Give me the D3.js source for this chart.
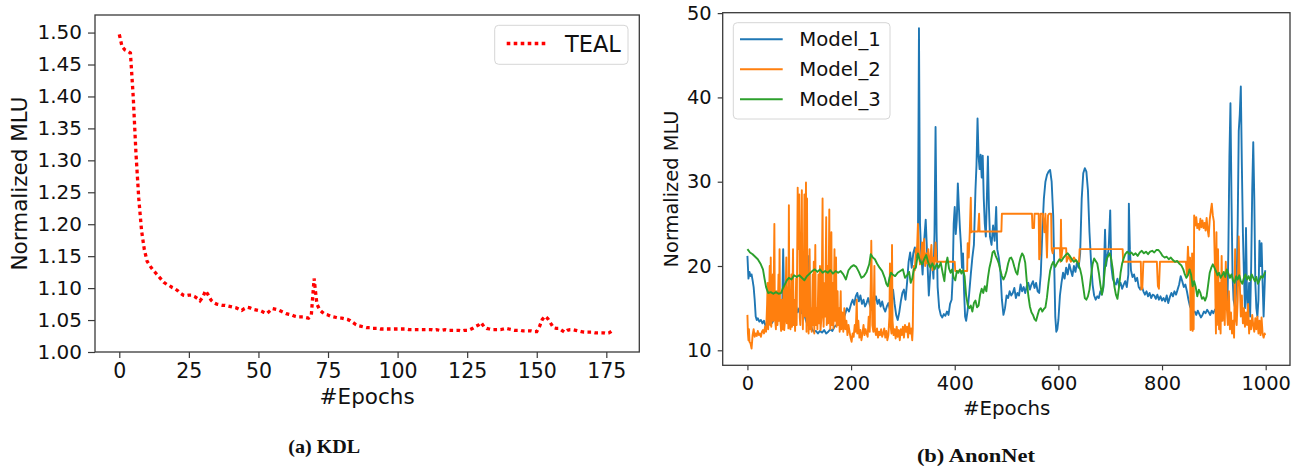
<!DOCTYPE html>
<html><head><meta charset="utf-8">
<script src="https://cdn.jsdelivr.net/npm/d3@7"></script>
<style>
html,body{margin:0;padding:0;background:#fff;}
svg{display:block;}
</style></head>
<body>
<svg id="c" width="1302" height="467"></svg>
<script>
// ---------- DATA ----------
const tealValues = [1.497,1.478,1.473,1.471,1.468,1.40,1.31,1.24,1.19,1.16,
1.142,1.135,1.129,1.124,1.119,1.114,1.109,1.106,1.104,1.101,
1.099,1.096,1.092,1.089,1.088,1.089,1.089,1.087,1.084,1.080,
1.086,1.096,1.089,1.081,1.077,1.075,1.074,1.073,1.073,1.072,
1.071,1.070,1.069,1.067,1.065,1.068,1.070,1.069,1.067,1.066,
1.065,1.064,1.062,1.060,1.064,1.068,1.067,1.066,1.064,1.062,
1.060,1.059,1.058,1.056,1.055,1.055,1.055,1.054,1.053,1.058,
1.115,1.075,1.066,1.062,1.059,1.058,1.056,1.055,1.054,1.053,
1.053,1.052,1.051,1.049,1.046,1.043,1.041,1.040,1.039,1.038,
1.038,1.037,1.037,1.037,1.036,1.036,1.036,1.036,1.036,1.036,
1.036,1.036,1.036,1.036,1.035,1.035,1.035,1.035,1.035,1.035,
1.035,1.035,1.035,1.034,1.035,1.034,1.034,1.035,1.034,1.034,
1.034,1.034,1.034,1.033,1.034,1.034,1.035,1.037,1.040,1.042,
1.046,1.040,1.037,1.036,1.035,1.035,1.035,1.035,1.036,1.037,
1.036,1.035,1.034,1.034,1.034,1.033,1.033,1.033,1.033,1.032,
1.032,1.040,1.051,1.056,1.052,1.045,1.038,1.037,1.037,1.034,
1.031,1.034,1.035,1.035,1.034,1.033,1.032,1.031,1.031,1.031,
1.031,1.030,1.030,1.030,1.030,1.029,1.030,1.033];
const tealXTicks = [0,25,50,75,100,125,150,175];
const tealYTicks = [1.00,1.05,1.10,1.15,1.20,1.25,1.30,1.35,1.40,1.45,1.50];

const model1 = [[0,21.2],[2,18.5],[4,19.3],[6,18.8],[8,19],[10,18.3],[12,17.5],[14,16],[16,14],[18,13.6],[20,13.8],[23,13.4],[26,13.6],[29,13.2],[32,13.5],[35,12.9],[38,13.2],[40,15.5],[42,16.2],[44,14],[47,13.2],[50,13.5],[53,13.8],[56,13.3],[60,13.6],[64,13.9],[67,14.5],[69,22],[71,15],[74,14.2],[78,14.5],[82,14],[86,14.4],[90,14.9],[94,15.2],[97,14.5],[100,15],[104,14.4],[107,15.3],[110,14.2],[113,13.5],[116,13],[119,21.2],[121,13.5],[124,12.6],[128,12.2],[132,12.3],[136,12],[140,12.3],[144,12.1],[148,12.4],[152,12],[156,12.2],[160,12.5],[164,12.3],[168,12.8],[172,13],[176,13.4],[180,12.9],[184,13.6],[188,14.2],[192,15],[196,14.6],[200,15.5],[203,16],[206,15.4],[209,16.4],[212,16.8],[215,15.8],[218,16.5],[221,15.5],[224,16],[227,15.2],[230,15.6],[233,16.2],[236,15.4],[239,14.8],[242,15.3],[245,15.9],[248,16.4],[251,15.5],[254,16],[257,15.2],[260,15.8],[263,15],[266,14.6],[269,15.2],[272,15.6],[275,14.8],[278,15.3],[281,17.2],[284,15.5],[287,14.2],[290,13.6],[293,14.5],[296,15.8],[299,16.8],[302,17.2],[305,16],[308,18],[311,20.5],[314,21.6],[317,19.8],[320,21.5],[323,22.2],[326,21],[329,22.5],[331,48.2],[333,25],[335,21.8],[338,19],[341,23],[344,25.5],[347,21],[350,16.5],[353,19.5],[356,21],[359,18.5],[361,24],[363,36.5],[365,24],[367,17.5],[370,15],[373,14.2],[376,13.9],[379,14.3],[382,14.1],[385,14.6],[388,14.2],[391,15.5],[394,16],[396,18.5],[398,25],[400,27],[402,23.8],[404,25.5],[406,29.8],[408,27],[410,24.5],[412,22.5],[414,19.8],[416,21.5],[418,17],[420,14],[422,13.5],[425,14.8],[428,16.8],[431,19],[434,21],[437,22.5],[440,29],[442,32],[444,37.5],[446,33],[448,31.5],[450,33.2],[452,30.5],[454,33.1],[456,28],[458,25],[460,23.5],[462,28],[464,33],[466,27],[468,23.5],[471,22.5],[474,24.8],[477,23],[480,27],[482,22],[485,21],[488,19.5],[491,16],[494,14.2],[497,15],[500,16.5],[503,16.2],[506,17],[509,16.5],[512,16.8],[515,17.4],[518,16.2],[521,16.8],[524,16.5],[527,17.8],[530,17],[533,17.5],[536,16.8],[539,17.6],[542,18],[545,17.2],[548,17.8],[551,18.2],[554,17.4],[557,18],[560,17],[563,16.8],[566,19],[569,24],[572,28],[575,30],[578,30.8],[581,31.2],[584,31.4],[587,30],[590,26],[592,20],[594,14],[596,12.2],[598,12.5],[600,13.6],[603,16.5],[606,18],[609,19.2],[612,18.5],[615,19.8],[618,19],[621,20.2],[624,19.5],[627,18.8],[630,20],[633,19.3],[636,20.5],[639,19.8],[642,21.5],[645,28],[648,31],[651,31.6],[654,31.2],[657,29],[660,24],[663,20.5],[666,17.8],[669,16.5],[672,16],[675,16.4],[678,16.2],[681,17],[684,16.6],[687,17.5],[690,24.3],[692,20],[694,21],[697,22],[700,26.6],[702,20],[705,18.5],[708,18],[711,17.8],[714,18.5],[717,17.6],[720,18],[723,17.3],[726,17.8],[729,18.2],[732,17.5],[735,19],[736,27.4],[738,22],[740,19.5],[743,18.7],[746,19],[749,18.2],[752,18.6],[755,17.5],[758,17.2],[761,17.6],[764,17],[767,16.6],[770,17],[773,16.4],[776,16.8],[779,16.2],[782,16.6],[785,16.5],[788,16.1],[791,16.6],[794,16],[797,16.4],[800,15.9],[803,16.2],[806,15.8],[809,16.5],[812,15.6],[815,16.3],[818,16.8],[821,16.4],[824,17],[827,16.6],[830,17.2],[833,17.8],[836,18.8],[839,18.2],[842,17.5],[845,17.8],[848,17],[851,16],[854,15.2],[857,14.8],[860,14.5],[863,14.6],[866,14.2],[869,14.7],[872,14.3],[875,13.9],[878,14.2],[881,14.6],[884,14.4],[887,14.8],[890,14.5],[893,14.2],[896,14.7],[899,14.4],[902,14.8],[905,15],[908,14.6],[911,15.8],[914,13.5],[917,16],[920,19],[923,17.5],[926,15],[928,22],[930,33],[932,39.3],[934,28],[936,19],[938,16],[941,15],[944,18],[946,25],[948,36],[950,38],[952,41.3],[954,32],[956,24],[958,19],[960,15],[962,24.5],[964,16],[966,14.5],[968,18],[970,14],[972,20],[974,29],[976,34.7],[978,28],[980,18],[982,15],[984,14],[986,16],[988,23],[990,20],[992,22.7],[994,18],[996,14],[999,19.5]];

const model2 = [[0,14.2],[1,12],[2,11.2],[3,12.5],[4,11],[6,10.8],[8,10.2],[10,11.8],[12,12.5],[14,11.6],[16,12],[18,11.7],[20,12.3],[22,11.8],[24,12],[26,11.6],[28,12.2],[30,12.4],[32,12],[34,12.8],[36,12.2],[38,15.5],[39,18],[40,12.5],[41,14],[43,20],[44,13],[45,21],[46,12.8],[48,15],[49,19],[50,13.5],[52,25],[53,14],[55,12.5],[56,17],[58,13],[60,19],[61,13.5],[62,22],[63,14],[65,12.3],[66,16],[68,12.5],[70,17.5],[71,12.4],[73,14],[75,21],[76,13.2],[78,17.5],[79,12.6],[80,27.2],[81,14],[83,12.5],[85,19],[86,12.8],[88,22],[89,13],[90,16],[92,12.3],[94,18.5],[95,13],[97,29.3],[98,22],[99,26],[100,28.5],[101,14],[102,13],[104,24],[105,29],[106,15],[107,12.5],[109,20],[110,28.5],[111,14],[113,29.9],[114,12.2],[115,28],[116,13],[117,18],[118,12],[120,22],[121,12.5],[123,15],[124,12.2],[126,19],[127,13],[128,20.5],[129,12],[131,22.5],[132,13],[134,15],[135,12.5],[137,19],[138,13.2],[140,20],[141,12.4],[143,14],[145,28],[146,15],[147,12.8],[149,18],[150,14],[152,25.8],[153,13],[155,20],[156,13.2],[158,26.7],[159,14],[160,12.5],[162,24],[163,13],[165,18],[166,12.6],[168,22],[169,13.5],[171,21],[172,12.8],[174,17],[175,13],[177,15],[178,12.2],[180,17],[181,12.5],[183,14.5],[185,12.2],[187,15],[189,12.5],[191,13.5],[193,11.8],[195,13],[197,12.2],[199,11.5],[201,11],[203,12],[205,11.6],[207,13],[209,12.2],[211,16],[212,12],[214,13.5],[216,11.5],[218,12.4],[220,11.2],[222,12],[224,13],[226,11.8],[228,12.5],[230,12],[232,11.6],[234,14],[236,12.2],[238,18],[239,23],[241,13],[243,12.2],[245,20],[246,12.5],[248,11.8],[250,12.6],[252,11.5],[254,12.2],[256,11.8],[258,12.5],[260,11.6],[262,12],[264,12.6],[266,11.5],[268,12.3],[270,11.2],[272,11.8],[274,14],[275,20.3],[276,13],[278,12],[279,22.5],[280,13.5],[282,11.8],[284,12.5],[286,11.4],[288,12.8],[290,11.6],[292,12.4],[294,11.2],[296,12.5],[298,11.8],[300,12.8],[302,11.5],[304,13],[306,12.2],[308,12.8],[310,11.5],[312,13.2],[314,12],[316,12.6],[318,11.2],[319,12.5],[320,17],[321,20],[323,19.5],[325,22],[327,21.5],[329,25],[331,21.5],[333,20.2],[335,21],[337,22.8],[339,20.5],[341,23.2],[343,20],[345,21.5],[347,20.3],[349,22],[351,20],[353,20.8],[355,22.5],[357,19.5],[359,21],[361,20.2],[363,22.8],[365,20.5],[370,20.5],[380,20.5],[390,20.5],[400,20.5],[401,19.4],[410,19.4],[420,19.4],[424,19.4],[425,22.7],[427,21],[429,24],[431,28.1],[432,24],[434,24.1],[440,24.1],[445,24.1],[447,26.2],[448,24.1],[460,24.1],[470,24.1],[480,24.1],[490,24.1],[491,26.2],[500,26.2],[510,26.2],[520,26.2],[530,26.2],[540,26.2],[549,26.2],[550,24.5],[553,24.5],[554,26.2],[562,26.2],[563,20.8],[565,21.5],[566,26.2],[570,26.2],[573,24],[575,26.2],[578,21],[580,26],[582,26.2],[586,26.2],[587,22],[589,21.5],[590,22.1],[600,22.1],[603,22.1],[604,20.5],[605,25.5],[606,21],[608,22.1],[615,22.1],[616,20.5],[620,21.2],[624,20.5],[630,21],[635,20.5],[640,20.5],[641,22],[650,22],[660,22],[670,22],[680,22],[690,22],[700,22],[710,22],[720,22],[724,22],[725,20.5],[740,20.5],[755,20.5],[759,20.5],[760,17.2],[762,17.4],[764,20.5],[780,20.5],[790,20.5],[792,17.6],[794,17.3],[796,20.5],[810,20.5],[820,20.5],[830,20.5],[840,20.5],[846,20.5],[848,19],[850,22.3],[852,19.5],[854,21],[855,12.4],[856,20.5],[857,12.5],[858,21.5],[859,12.3],[860,16],[861,12.5],[862,26],[864,24.8],[866,25.8],[868,24.5],[870,25],[872,24.3],[874,25.6],[876,24.6],[878,25.4],[880,24.5],[882,25.1],[884,24.2],[886,25.7],[888,24.3],[890,23.5],[892,25.5],[894,26.5],[896,27.4],[898,26],[900,25.3],[902,20],[904,12],[905,24],[906,13],[908,22],[910,12.5],[912,18],[913,12],[915,21.2],[917,13.5],[919,19],[921,13],[923,20.5],[925,15],[927,13],[929,17],[931,12.5],[933,14.5],[935,12],[937,13.5],[939,11.5],[941,22],[942,14],[944,13],[946,16],[948,23.5],[950,18],[952,14],[954,16.5],[956,13.2],[958,15],[960,12.8],[962,14.5],[964,13],[966,15.5],[968,12],[970,13.5],[972,12.5],[974,14.2],[976,13],[978,12.2],[980,13.8],[982,12.5],[984,14],[986,12],[988,13.5],[990,11.8],[992,13.9],[994,12],[996,11.5],[998,12],[999,11.8]];

const model3 = [[0,22],[5,21.6],[10,21.4],[15,21.1],[20,20.8],[25,20.3],[30,19.6],[33,18.5],[36,17.5],[40,16.8],[45,16.9],[50,16.7],[55,16.9],[60,16.7],[65,16.8],[68,17.3],[72,17.8],[76,18.3],[80,18.6],[85,18.4],[90,18.9],[95,18.7],[100,18.9],[105,18.6],[110,18.3],[115,18.8],[120,19.1],[125,19.4],[130,19.6],[135,19.3],[140,19.6],[145,19.2],[150,19.4],[155,19.2],[160,19.5],[165,19.1],[170,19.4],[175,19.2],[180,19.4],[185,19],[190,18.4],[195,19.5],[200,19.9],[205,20.1],[210,19.9],[215,19.3],[220,18.6],[225,18.8],[230,19.3],[235,20.2],[238,21.4],[242,21],[246,20.8],[250,20.3],[255,19.8],[260,19.4],[265,18.6],[268,17.9],[271,17.6],[274,18.6],[277,19.2],[280,19],[285,18.8],[290,19.2],[295,19.4],[300,19.6],[304,18.6],[308,18.9],[312,19.3],[315,18],[318,18.5],[321,19.6],[325,19.8],[329,21.5],[333,20.6],[337,20.2],[341,20.8],[345,21.3],[349,20.4],[353,19.8],[357,20.3],[361,19.6],[365,20.2],[369,19.8],[373,20.4],[377,19.1],[380,18.2],[383,20.2],[386,21],[389,19.7],[392,19.2],[395,19.6],[398,18.6],[401,18.3],[404,19.4],[407,19.2],[410,19.6],[413,19.1],[416,19.5],[419,18.8],[422,16.5],[425,15.4],[428,15],[431,15.3],[434,14.6],[437,15.6],[440,15.9],[443,15.1],[446,15.3],[449,16.6],[452,17.3],[455,16.8],[458,17.6],[461,17],[464,18.6],[467,19.8],[470,20.6],[473,21.6],[476,21.8],[479,21.2],[482,20.8],[485,20.3],[488,19.5],[491,18.8],[494,18.4],[497,18.8],[500,19.4],[503,20.3],[506,20.9],[509,21],[512,20.6],[515,19.9],[518,19.3],[521,19],[524,20.2],[527,21],[530,21.5],[533,21.2],[536,20.4],[539,18.2],[542,16.5],[545,15.2],[548,14.5],[551,14.2],[554,13.7],[557,13.5],[560,14.2],[563,14.8],[566,15],[569,14.6],[572,14.9],[575,15.1],[578,16.3],[581,18],[584,19.4],[587,20.1],[590,20.5],[594,19.9],[598,20.4],[602,20.8],[606,20.6],[610,21],[614,21.3],[618,21.5],[622,21.2],[626,20.8],[630,20.5],[634,20.7],[638,20.3],[642,19.6],[645,18.8],[648,17.5],[651,16.2],[654,16],[657,16.4],[660,17.2],[663,18.8],[666,20.2],[669,20.9],[672,20.6],[675,20.3],[678,19.2],[681,17.8],[684,16.6],[687,17.8],[690,19.8],[693,20.8],[696,21.2],[699,21.5],[702,20.8],[705,19.6],[708,17.6],[711,16.6],[714,16.1],[717,17.5],[720,19.2],[723,20.3],[726,20.9],[729,21.4],[733,21.7],[737,21.4],[741,21.6],[745,21.3],[749,21.5],[753,21.2],[757,21.6],[761,21.8],[765,21.5],[769,21.7],[773,21.4],[777,21.7],[781,21.8],[785,21.6],[789,21.9],[793,21.9],[797,21.6],[801,21.2],[805,21],[809,21.1],[813,20.8],[817,21],[821,20.7],[825,20.5],[829,20.6],[833,20.3],[837,20.1],[841,19.6],[844,19],[847,18.6],[850,18.9],[853,19.6],[856,19],[859,17.6],[862,18.2],[865,17.5],[868,16.4],[871,17.2],[874,16.8],[877,16.1],[880,16.3],[883,15.9],[886,16.4],[889,17.8],[892,19.2],[895,19.8],[898,20.2],[901,19.8],[904,19.4],[907,18.9],[910,19.2],[913,18.6],[916,18.9],[919,19.3],[922,18.7],[925,19.6],[928,19.1],[931,18.6],[934,19],[937,18.3],[940,18],[943,18.8],[946,18.4],[949,18.9],[952,18.2],[955,17.9],[958,18.6],[961,19],[964,18.4],[967,18.8],[970,18.3],[973,19],[976,18.6],[979,18.2],[982,18.7],[985,17.9],[988,18.3],[991,18.8],[994,18.6],[997,19],[999,19.3]];

const anonXTicks = [0,200,400,600,800,1000];
const anonYTicks = [10,20,30,40,50];
const seriesNames = ["Model_1","Model_2","Model_3"];
const seriesColors = ["#1f77b4","#ff7f0e","#2ca02c"];

// ---------- DRAW ----------
const svg = d3.select("#c");
const FONT = "'DejaVu Sans', sans-serif";
const SERIF = "'Liberation Serif', 'DejaVu Serif', serif";
const SPINE = "#3a3a3a";

function styleAxis(g, fs){
  g.select(".domain").remove();
  g.selectAll(".tick line").attr("stroke", SPINE).attr("stroke-width", 1.2);
  g.selectAll(".tick text").attr("fill", "#111").style("font-family", FONT).style("font-size", fs + "px");
}

// ===== Left: KDL =====
{
  const L = 95, R = 639.3, T = 15, B = 352;
  const x = d3.scaleLinear().domain([-8.73, 186.85]).range([L, R]);
  const y = d3.scaleLinear().domain([1.0, 1.5275]).range([B, T]);

  const gx = svg.append("g").attr("transform", `translate(0,${B})`)
    .call(d3.axisBottom(x).tickValues(tealXTicks).tickFormat(d3.format("d")).tickSize(6).tickPadding(5));
  styleAxis(gx, 20.5);
  const gy = svg.append("g").attr("transform", `translate(${L},0)`)
    .call(d3.axisLeft(y).tickValues(tealYTicks).tickFormat(d3.format(".2f")).tickSize(7).tickPadding(6));
  styleAxis(gy, 20);

  const line = d3.line().x((d, i) => x(i)).y(d => y(d));
  svg.append("path").datum(tealValues).attr("d", line)
    .attr("fill", "none").attr("stroke", "#ff0000").attr("stroke-width", 3.3)
    .attr("stroke-dasharray", "3.6,3.4");

  svg.append("rect").attr("x", L).attr("y", T).attr("width", R - L).attr("height", B - T)
    .attr("fill", "none").attr("stroke", SPINE).attr("stroke-width", 1.3);

  // legend
  svg.append("rect").attr("x", 494.7).attr("y", 25.3).attr("width", 133.3).attr("height", 39)
    .attr("rx", 4).attr("fill", "#fff").attr("fill-opacity", 0.8).attr("stroke", "#d6d6d6").attr("stroke-width", 1);
  svg.append("line").attr("x1", 506.7).attr("x2", 548.3).attr("y1", 43.5).attr("y2", 43.5)
    .attr("stroke", "#ff0000").attr("stroke-width", 3.3).attr("stroke-dasharray", "3.6,3.4");
  svg.append("text").attr("x", 565).attr("y", 43.5).attr("dy", "0.36em").text("TEAL")
    .style("font-family", FONT).style("font-size", "22.5px").attr("fill", "#111");

  svg.append("text").attr("x", (L + R) / 2).attr("y", 404.3).attr("text-anchor", "middle").text("#Epochs")
    .style("font-family", FONT).style("font-size", "21.5px").attr("fill", "#111");
  svg.append("text").attr("transform", `translate(27,${(T + B) / 2}) rotate(-90)`).attr("text-anchor", "middle")
    .text("Normalized MLU").style("font-family", FONT).style("font-size", "21.5px").attr("fill", "#111");

  svg.append("text").attr("x", 324.2).attr("y", 452.7).attr("text-anchor", "middle").text("(a) KDL")
    .attr("textLength", 72).attr("lengthAdjust", "spacingAndGlyphs")
    .style("font-family", SERIF).style("font-weight", "bold").style("font-size", "19px").attr("fill", "#111");
}

// ===== Right: AnonNet =====
{
  const L = 722.7, R = 1290, T = 12.7, B = 365.3;
  const x = d3.scaleLinear().domain([-47.7, 1046.9]).range([L, R]);
  const y = d3.scaleLinear().domain([8.22, 50.05]).range([B, T]);

  const gx = svg.append("g").attr("transform", `translate(0,${B})`)
    .call(d3.axisBottom(x).tickValues(anonXTicks).tickFormat(d3.format("d")).tickSize(5).tickPadding(6));
  styleAxis(gx, 19.4);
  const gy = svg.append("g").attr("transform", `translate(${L},0)`)
    .call(d3.axisLeft(y).tickValues(anonYTicks).tickFormat(d3.format("d")).tickSize(5).tickPadding(6));
  styleAxis(gy, 19.4);

  svg.append("clipPath").attr("id", "clipR").append("rect")
    .attr("x", L).attr("y", T).attr("width", R - L).attr("height", B - T);

  const line = d3.line().x(d => x(d[0])).y(d => y(d[1]));
  [model1, model2, model3].forEach((s, i) => {
    svg.append("path").datum(s).attr("d", line).attr("clip-path", "url(#clipR)")
      .attr("fill", "none").attr("stroke", seriesColors[i]).attr("stroke-width", 1.9)
      .attr("stroke-linejoin", "round");
  });

  svg.append("rect").attr("x", L).attr("y", T).attr("width", R - L).attr("height", B - T)
    .attr("fill", "none").attr("stroke", SPINE).attr("stroke-width", 1.3);

  // legend
  svg.append("rect").attr("x", 733.3).attr("y", 22.7).attr("width", 156.7).attr("height", 96.3)
    .attr("rx", 4).attr("fill", "#fff").attr("fill-opacity", 0.8).attr("stroke", "#d6d6d6").attr("stroke-width", 1);
  seriesNames.forEach((n, i) => {
    const yy = 39.3 + i * 30;
    svg.append("line").attr("x1", 740).attr("x2", 782.7).attr("y1", yy).attr("y2", yy)
      .attr("stroke", seriesColors[i]).attr("stroke-width", 2);
    svg.append("text").attr("x", 799.3).attr("y", yy).attr("dy", "0.36em").text(n)
      .style("font-family", FONT).style("font-size", "19.7px").attr("fill", "#111");
  });

  svg.append("text").attr("x", 1006.7).attr("y", 415).attr("text-anchor", "middle").text("#Epochs")
    .style("font-family", FONT).style("font-size", "19.8px").attr("fill", "#111");
  svg.append("text").attr("transform", `translate(677.7,${(T + B) / 2}) rotate(-90)`).attr("text-anchor", "middle")
    .text("Normalized MLU").style("font-family", FONT).style("font-size", "19.4px").attr("fill", "#111");

  svg.append("text").attr("x", 975.9).attr("y", 461.7).attr("text-anchor", "middle").text("(b) AnonNet")
    .attr("textLength", 118).attr("lengthAdjust", "spacingAndGlyphs")
    .style("font-family", SERIF).style("font-weight", "bold").style("font-size", "19px").attr("fill", "#111");
}
</script>
</body></html>
